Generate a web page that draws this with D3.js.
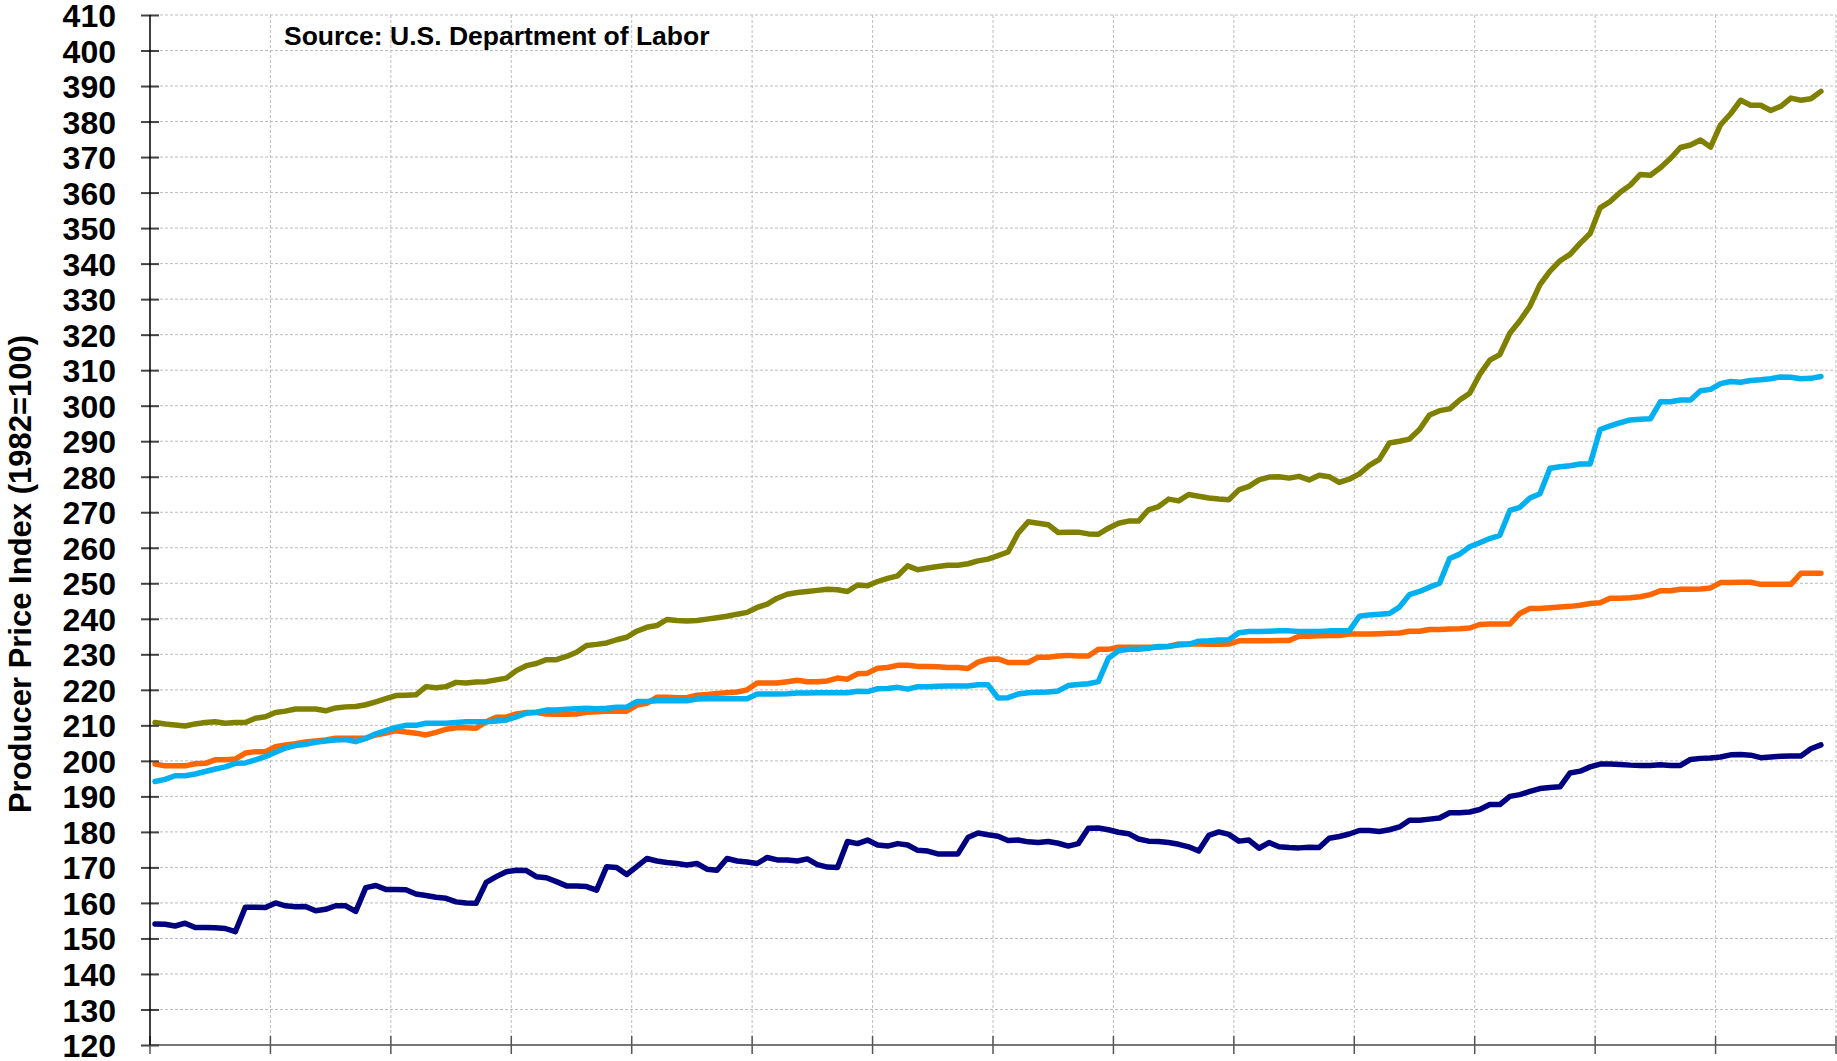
<!DOCTYPE html>
<html>
<head>
<meta charset="utf-8">
<script src="https://cdn.jsdelivr.net/npm/d3@7"></script>
<style>
  html, body { margin: 0; padding: 0; background: #fff; }
  svg { display: block; font-family: "Liberation Sans", Arial, sans-serif; }
</style>
</head>
<body>
<div id="app"></div>
<script>
// monthly index values, 14 year slots of 12 months (last month empty)
const yearCount = 14;
const yTicks = d3.range(120, 411, 10);

const olive = [
  210.8, 210.4, 210.1, 209.8, 210.4, 210.8, 211.0, 210.6, 210.8, 210.8, 212.0, 212.4,
  213.6, 214.0, 214.6, 214.6, 214.6, 214.1, 214.9, 215.2, 215.3, 215.8, 216.6, 217.5,
  218.4, 218.5, 218.6, 220.9, 220.6, 220.9, 222.1, 221.9, 222.2, 222.3, 222.8, 223.3,
  225.4, 226.8, 227.4, 228.5, 228.5, 229.4, 230.6, 232.5, 232.8, 233.2, 234.1, 234.8,
  236.5, 237.6, 238.1, 239.8, 239.5, 239.4, 239.5, 239.9, 240.3, 240.7, 241.3, 241.8,
  243.2, 244.1, 245.8, 246.9, 247.4, 247.7, 248.0, 248.3, 248.2, 247.7, 249.5, 249.3,
  250.5, 251.4, 252.1, 254.9, 253.8, 254.3, 254.7, 255.1, 255.1, 255.5, 256.3, 256.8,
  257.8, 258.8, 264.1, 267.3, 266.9, 266.5, 264.3, 264.4, 264.4, 263.9, 263.8, 265.5,
  266.9, 267.5, 267.5, 270.7, 271.6, 273.7, 273.2, 275.0, 274.5, 274.0, 273.7, 273.5,
  276.3, 277.3, 279.1, 279.9, 280.0, 279.6, 280.1, 279.1, 280.4, 280.0, 278.4, 279.3,
  280.8, 283.2, 284.9, 289.5, 290.0, 290.6, 293.3, 297.4, 298.6, 299.1, 301.6, 303.5,
  308.8, 312.8, 314.4, 320.4, 323.9, 328.0, 334.1, 337.9, 340.8, 342.6, 345.7, 348.5,
  355.7, 357.5, 360.1, 362.1, 365.1, 364.9, 367.0, 369.6, 372.7, 373.4, 374.8, 372.8,
  379.1, 382.2, 386.0, 384.6, 384.6, 383.1, 384.3, 386.6, 386.0, 386.4, 388.5
];

const blue = [
  194.2, 194.8, 195.8, 195.8, 196.3, 197.0, 197.7, 198.3, 199.3, 199.4, 200.3, 201.2,
  202.4, 203.6, 204.3, 204.7, 205.2, 205.6, 205.9, 206.0, 205.4, 206.3, 207.6, 208.5,
  209.4, 210.0, 210.0, 210.6, 210.6, 210.6, 210.8, 211.0, 211.0, 211.0, 211.2, 211.5,
  212.4, 213.4, 213.7, 214.3, 214.3, 214.5, 214.7, 214.8, 214.7, 214.8, 215.1, 215.1,
  216.7, 216.7, 216.9, 216.9, 216.9, 216.9, 217.4, 217.5, 217.5, 217.5, 217.5, 217.5,
  218.8, 218.8, 218.8, 218.9, 219.1, 219.1, 219.2, 219.2, 219.2, 219.2, 219.6, 219.5,
  220.3, 220.4, 220.7, 220.2, 220.9, 220.9, 221.0, 221.1, 221.1, 221.1, 221.4, 221.4,
  217.7, 217.8, 218.8, 219.2, 219.3, 219.4, 219.7, 221.2, 221.5, 221.7, 222.3, 228.9,
  231.0, 231.4, 231.4, 231.7, 232.2, 232.3, 232.6, 232.8, 233.7, 233.8, 234.0, 234.1,
  236.1, 236.4, 236.4, 236.5, 236.6, 236.6, 236.4, 236.4, 236.4, 236.6, 236.6, 236.6,
  240.7, 241.1, 241.3, 241.5, 243.3, 246.8, 247.7, 248.9, 250.0, 257.0, 258.2, 260.3,
  261.4, 262.6, 263.5, 270.5, 271.4, 274.0, 275.2, 282.4, 282.8, 283.1, 283.6, 283.6,
  293.3, 294.3, 295.2, 296.0, 296.2, 296.3, 301.1, 301.1, 301.6, 301.6, 304.2, 304.6,
  306.2, 306.8, 306.6, 307.1, 307.3, 307.6, 308.1, 308.0, 307.6, 307.7, 308.2
];

const orange = [
  199.1, 198.6, 198.6, 198.6, 199.2, 199.3, 200.3, 200.3, 200.5, 202.2, 202.6, 202.6,
  204.0, 204.5, 204.8, 205.3, 205.6, 205.9, 206.4, 206.4, 206.4, 206.4, 207.3, 207.8,
  208.5, 208.1, 207.8, 207.3, 208.0, 208.9, 209.3, 209.3, 209.2, 211.0, 212.3, 212.3,
  213.2, 213.6, 213.6, 213.2, 213.1, 213.1, 213.2, 213.7, 213.8, 214.0, 214.0, 214.0,
  215.7, 216.2, 217.9, 217.9, 217.8, 217.8, 218.5, 218.7, 219.0, 219.2, 219.4, 220.0,
  221.9, 221.9, 221.9, 222.3, 222.7, 222.3, 222.3, 222.5, 223.3, 223.0, 224.5, 224.7,
  226.1, 226.3, 226.9, 226.9, 226.6, 226.6, 226.5, 226.3, 226.3, 226.0, 227.8, 228.6,
  228.7, 227.7, 227.7, 227.7, 229.2, 229.2, 229.5, 229.7, 229.5, 229.5, 231.4, 231.4,
  232.0, 232.0, 232.0, 232.0, 232.0, 232.2, 232.9, 232.9, 232.9, 232.8, 232.8, 232.9,
  233.8, 233.8, 233.8, 233.8, 233.9, 233.9, 235.1, 235.1, 235.2, 235.3, 235.3, 235.7,
  235.7, 235.7, 235.8, 235.9, 236.0, 236.5, 236.5, 237.0, 237.0, 237.1, 237.2, 237.4,
  238.4, 238.5, 238.5, 238.5, 241.5, 242.9, 242.9, 243.1, 243.3, 243.5, 243.8, 244.3,
  244.5, 245.8, 245.8, 245.9, 246.2, 246.8, 247.9, 247.9, 248.3, 248.3, 248.4, 248.7,
  250.2, 250.2, 250.3, 250.3, 249.7, 249.7, 249.7, 249.7, 252.8, 252.8, 252.8
];

const navy = [
  154.1, 154.0, 153.5, 154.3, 153.1, 153.1, 153.0, 152.8, 151.9, 158.8, 158.8, 158.7,
  160.0, 159.2, 158.9, 159.0, 157.8, 158.2, 159.2, 159.2, 157.6, 164.3, 164.9, 163.8,
  163.8, 163.7, 162.5, 162.1, 161.6, 161.3, 160.3, 160.0, 159.9, 165.8, 167.4, 168.8,
  169.2, 169.1, 167.4, 167.1, 166.0, 164.8, 164.8, 164.6, 163.6, 170.2, 170.0, 168.0,
  170.2, 172.5, 171.8, 171.4, 171.1, 170.7, 171.1, 169.5, 169.2, 172.5, 171.8, 171.5,
  171.1, 172.8, 172.1, 172.1, 171.8, 172.4, 170.8, 170.1, 170.0, 177.3, 176.7, 177.7,
  176.3, 176.0, 176.7, 176.3, 174.8, 174.6, 173.8, 173.8, 173.8, 178.4, 179.7, 179.2,
  178.8, 177.6, 177.7, 177.2, 177.0, 177.3, 176.8, 176.0, 176.7, 181.0, 181.1, 180.6,
  179.9, 179.5, 178.0, 177.4, 177.3, 177.0, 176.5, 175.8, 174.6, 179.0, 180.0, 179.3,
  177.4, 177.7, 175.4, 177.0, 175.8, 175.6, 175.5, 175.7, 175.6, 178.2, 178.7, 179.4,
  180.4, 180.4, 180.1, 180.6, 181.4, 183.3, 183.3, 183.6, 183.9, 185.4, 185.4, 185.6,
  186.3, 187.7, 187.7, 190.0, 190.5, 191.4, 192.2, 192.5, 192.7, 196.6, 197.1, 198.3,
  199.1, 199.1, 199.0, 198.8, 198.7, 198.7, 198.9, 198.7, 198.7, 200.4, 200.7, 200.8,
  201.1, 201.7, 201.8, 201.6, 200.9, 201.1, 201.3, 201.4, 201.4, 203.4, 204.5
];

const series = [
  { name: "olive", color: "#808000", values: olive },
  { name: "orange", color: "#FF6600", values: orange },
  { name: "blue", color: "#00B0F0", values: blue },
  { name: "navy", color: "#000080", values: navy }
];

const width = 1837, height = 1061;
const plot = { left: 150, right: 1836, top: 15, bottom: 1045 };

const svg = d3.select("#app").append("svg")
  .attr("width", width)
  .attr("height", height);

const x = d3.scaleLinear().domain([0, yearCount * 12]).range([plot.left, plot.right]);
const y = d3.scaleLinear().domain([120, 410]).range([plot.bottom, plot.top]);

// grid
svg.append("g")
  .selectAll("line")
  .data(yTicks.filter(d => d > 120))
  .join("line")
  .attr("x1", plot.left).attr("x2", plot.right)
  .attr("y1", d => y(d)).attr("y2", d => y(d))
  .attr("stroke", "#bdbdbd").attr("stroke-width", 1)
  .attr("stroke-dasharray", "3,2");

const yearTicks = d3.range(0, yearCount * 12 + 1, 12);
svg.append("g")
  .selectAll("line")
  .data(yearTicks.slice(1))
  .join("line")
  .attr("x1", d => x(d)).attr("x2", d => x(d))
  .attr("y1", plot.top).attr("y2", plot.bottom)
  .attr("stroke", "#bdbdbd").attr("stroke-width", 1)
  .attr("stroke-dasharray", "3,2");

// source note
svg.append("text")
  .attr("x", 284).attr("y", 45)
  .attr("font-size", 26.5).attr("font-weight", "bold")
  .attr("fill", "#000")
  .text("Source: U.S. Department of Labor");

// lines
const line = d3.line()
  .x((d, i) => x(i + 0.5))
  .y(d => y(d));

svg.append("g")
  .selectAll("path")
  .data(series)
  .join("path")
  .attr("d", d => line(d.values))
  .attr("fill", "none")
  .attr("stroke", d => d.color)
  .attr("stroke-width", 5.5)
  .attr("stroke-linejoin", "round")
  .attr("stroke-linecap", "round");

// x axis line with crossing ticks
svg.append("line")
  .attr("x1", plot.left).attr("x2", plot.right)
  .attr("y1", plot.bottom).attr("y2", plot.bottom)
  .attr("stroke", "#777").attr("stroke-width", 2);

svg.append("g")
  .selectAll("line")
  .data(yearTicks)
  .join("line")
  .attr("x1", d => x(d)).attr("x2", d => x(d))
  .attr("y1", plot.bottom - 9).attr("y2", plot.bottom + 9)
  .attr("stroke", "#555").attr("stroke-width", 1.5);

// y axis
const yAxis = svg.append("g")
  .attr("transform", `translate(${plot.left},0)`)
  .call(d3.axisLeft(y).tickValues(yTicks).tickSize(9).tickPadding(25));

yAxis.select(".domain").remove();
yAxis.append("line")
  .attr("y1", plot.top).attr("y2", plot.bottom)
  .attr("stroke", "#000").attr("stroke-width", 1.5);
yAxis.selectAll(".tick line")
  .attr("x2", -9).attr("x1", 9)
  .attr("stroke", "#444").attr("stroke-width", 2);
yAxis.selectAll(".tick text")
  .attr("font-family", "Liberation Sans, Arial, sans-serif")
  .attr("font-size", 32).attr("font-weight", "bold")
  .attr("fill", "#000")
  .attr("dy", "0.36em");

// y title
svg.append("text")
  .attr("transform", "translate(31,574) rotate(-90)")
  .attr("text-anchor", "middle")
  .attr("font-size", 31).attr("font-weight", "bold")
  .attr("fill", "#000")
  .text("Producer Price Index (1982=100)");
</script>
</body>
</html>
